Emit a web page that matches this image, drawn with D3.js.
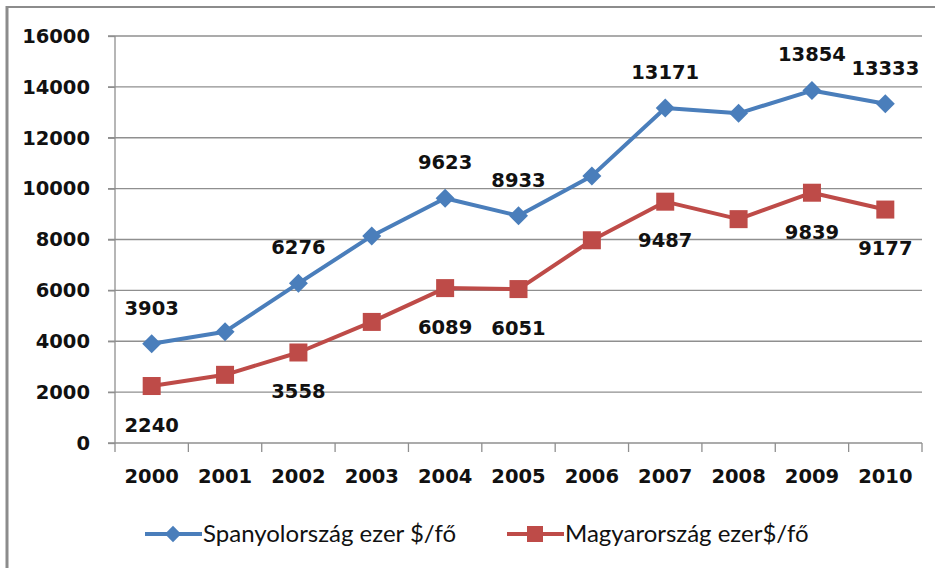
<!DOCTYPE html>
<html>
<head>
<meta charset="utf-8">
<script src="https://cdn.jsdelivr.net/npm/d3@7"></script>
<style>
body { margin: 0; background: #fff; }
svg { display: block; }
</style>
</head>
<body>
<svg width="935" height="568"></svg>
<script>
// data
var years = ["2000","2001","2002","2003","2004","2005","2006","2007","2008","2009","2010"];
var spain = [3903, 4376, 6276, 8140, 9623, 8933, 10500, 13171, 12960, 13854, 13333];
var hungary = [2240, 2680, 3558, 4760, 6089, 6051, 7970, 9487, 8800, 9839, 9177];
// which points carry a value label
var labelled = [true, false, true, false, true, true, false, true, false, true, true];
var yTicks = [0, 2000, 4000, 6000, 8000, 10000, 12000, 14000, 16000];
var seriesNames = ["Spanyolország ezer $/fő", "Magyarország ezer$/fő"];

var blue = "#4a7ebb", red = "#be4b48";
var tickFont = "'DejaVu Sans', sans-serif";

var svg = d3.select("svg"),
	margin = { top: 36, left: 115, right: 13, bottom: 125 },
	width = 935 - margin.left - margin.right,
	height = 568 - margin.top - margin.bottom;

// chart frame (left + top edge only visible)
svg.append("line").attr("x1", 7).attr("x2", 7).attr("y1", 6).attr("y2", 568)
	.attr("stroke", "#8c8c8c").attr("stroke-width", 3);
svg.append("line").attr("x1", 6).attr("x2", 935).attr("y1", 7).attr("y2", 7)
	.attr("stroke", "#8c8c8c").attr("stroke-width", 2);

var g = svg.append("g").attr("transform", "translate(" + margin.left + "," + margin.top + ")");

var x = d3.scaleBand().domain(years).range([0, width]);
var y = d3.scaleLinear().domain([0, 16000]).range([height, 0]);
var cx = function (d, i) { return x(years[i]) + x.bandwidth() / 2; };

// gridlines
g.append("g").selectAll("line").data(yTicks.slice(1)).enter().append("line")
	.attr("x1", -7).attr("x2", width)
	.attr("y1", function (d) { return y(d); }).attr("y2", function (d) { return y(d); })
	.attr("stroke", "#8f8f8f").attr("stroke-width", 1.3);

// y axis
var yAxis = g.append("g")
	.call(d3.axisLeft(y).tickValues(yTicks).tickFormat(d3.format("d")).tickSize(7).tickPadding(18));
yAxis.select(".domain").attr("stroke", "#8f8f8f").attr("stroke-width", 1.3).attr("d", "M0,0V" + height);
yAxis.selectAll(".tick line").attr("stroke", "#8f8f8f").attr("stroke-width", 1.3);
yAxis.selectAll("text").attr("font-family", tickFont).attr("font-weight", "bold")
	.attr("font-size", 19.5).attr("fill", "#111");

// x axis
var xAxis = g.append("g").attr("transform", "translate(0," + height + ")")
	.call(d3.axisBottom(x).tickSize(0).tickPadding(26));
xAxis.select(".domain").attr("stroke", "#8f8f8f").attr("stroke-width", 1.3).attr("d", "M-7,0H" + width);
xAxis.selectAll("text").attr("font-family", tickFont).attr("font-weight", "bold")
	.attr("font-size", 19.5).attr("fill", "#111");
// ticks between categories
g.append("g").selectAll("line").data(d3.range(years.length + 1)).enter().append("line")
	.attr("x1", function (i) { return i * x.step(); }).attr("x2", function (i) { return i * x.step(); })
	.attr("y1", height).attr("y2", height + 9)
	.attr("stroke", "#8f8f8f").attr("stroke-width", 1.3);

var line = d3.line().x(cx).y(function (d) { return y(d); });

// series lines
g.append("path").datum(spain).attr("d", line).attr("fill", "none")
	.attr("stroke", blue).attr("stroke-width", 4).attr("stroke-linejoin", "round");
g.append("path").datum(hungary).attr("d", line).attr("fill", "none")
	.attr("stroke", red).attr("stroke-width", 4).attr("stroke-linejoin", "round");

// markers
var diamond = d3.symbol().type(d3.symbolDiamond2).size(230);
g.selectAll(".dia").data(spain).enter().append("path")
	.attr("class", "dia")
	.attr("transform", function (d, i) { return "translate(" + cx(d, i) + "," + y(d) + ")"; })
	.attr("d", diamond).attr("fill", blue);
g.selectAll(".sq").data(hungary).enter().append("rect")
	.attr("class", "sq")
	.attr("x", function (d, i) { return cx(d, i) - 9; })
	.attr("y", function (d) { return y(d) - 9; })
	.attr("width", 18).attr("height", 18).attr("fill", red);

// value labels
g.selectAll(".lblS").data(spain).enter().filter(function (d, i) { return labelled[i]; })
	.append("text")
	.attr("x", function (d) { return cx(d, spain.indexOf(d)); })
	.attr("y", function (d) { return y(d) - 36; })
	.attr("dy", "0.35em").attr("text-anchor", "middle")
	.attr("font-family", tickFont).attr("font-weight", "bold").attr("font-size", 19.5).attr("fill", "#111")
	.text(function (d) { return d; });
g.selectAll(".lblH").data(hungary).enter().filter(function (d, i) { return labelled[i]; })
	.append("text")
	.attr("x", function (d) { return cx(d, hungary.indexOf(d)); })
	.attr("y", function (d) { return y(d) + 39; })
	.attr("dy", "0.35em").attr("text-anchor", "middle")
	.attr("font-family", tickFont).attr("font-weight", "bold").attr("font-size", 19.5).attr("fill", "#111")
	.text(function (d) { return d; });

// legend
var legend = svg.append("g").attr("transform", "translate(0,534)");
var legItems = [
	{ name: seriesNames[0], color: blue, x0: 145, sym: "dia" },
	{ name: seriesNames[1], color: red, x0: 507, sym: "sq" }
];
legItems.forEach(function (it) {
	legend.append("line").attr("x1", it.x0).attr("x2", it.x0 + 57).attr("y1", 0).attr("y2", 0)
		.attr("stroke", it.color).attr("stroke-width", 4);
	if (it.sym === "dia") {
		legend.append("path").attr("transform", "translate(" + (it.x0 + 28) + ",0)")
			.attr("d", d3.symbol().type(d3.symbolDiamond2).size(170)).attr("fill", it.color);
	} else {
		legend.append("rect").attr("x", it.x0 + 20).attr("y", -8).attr("width", 16).attr("height", 16)
			.attr("fill", it.color);
	}
	legend.append("text").attr("x", it.x0 + 58).attr("y", 0).attr("dy", "0.35em")
		.attr("font-family", "Lato, sans-serif").attr("font-size", 24).attr("fill", "#111")
		.text(it.name);
});
</script>
</body>
</html>
